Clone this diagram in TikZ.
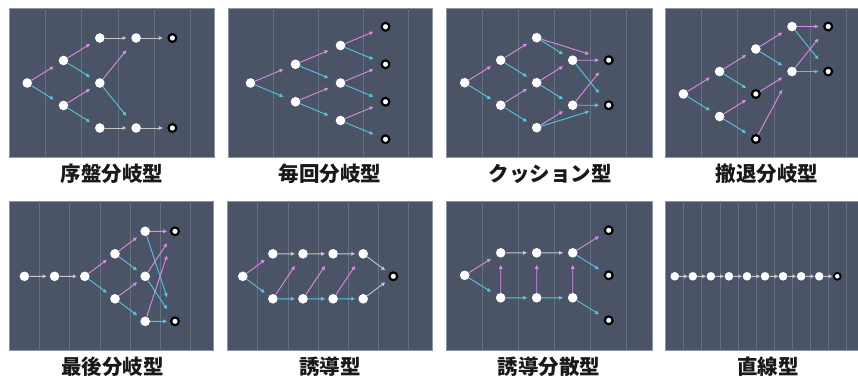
\documentclass[tikz,border=0pt]{standalone}
\usepackage{fontspec}
\newfontfamily\cjk{Noto Sans CJK JP}
\usetikzlibrary{arrows.meta,calc}
\definecolor{panelbg}{HTML}{4A5466}
\definecolor{gridc}{HTML}{657081}
\definecolor{edgec}{HTML}{8D95A2}
\definecolor{pinkc}{HTML}{DA8CE6}
\definecolor{cyanc}{HTML}{55C6E2}
\definecolor{grayc}{HTML}{C4C6CA}
\tikzset{
  nd/.style={circle, fill=white, inner sep=0pt, minimum size=9.6pt},
  en/.style={circle, fill=white, draw=black, line width=2.2pt, inner sep=0pt, minimum size=7.8pt},
  ndsm/.style={nd, minimum size=8.6pt},
  ensm/.style={en, minimum size=6.8pt, line width=1.9pt},
  frac/.style={to path={(\tikztostart) -- ($(\tikztostart)!0.73!(\tikztotarget)$)}},
  arr/.style={frac, line width=0.9pt, -{Triangle[length=3.8pt,width=3.6pt]}},
  pk/.style={arr, draw=pinkc},
  cy/.style={arr, draw=cyanc},
  gy/.style={arr, draw=grayc},
  ttl/.style={font=\cjk\bfseries\fontsize{20.5}{24}\selectfont, text=black!90, inner sep=0pt},
  panel/.style={fill=panelbg, draw=edgec, line width=0.5pt},
  grid/.style={draw=gridc, line width=0.7pt}
}
\begin{document}
\begin{tikzpicture}[x=1pt, y=-1pt]
\useasboundingbox (0,0) rectangle (858,376);
% ---------- panels and grid lines ----------
\path[panel] (9,8) rectangle (214.7,157);
\foreach \k in {1,...,5} \draw[grid] ({9+36.3*\k},8.4) -- ({9+36.3*\k},156.6);
\path[panel] (228,8) rectangle (432.7,157);
\foreach \k in {1,...,4} \draw[grid] ({228+45*\k},8.4) -- ({228+45*\k},156.6);
\path[panel] (446.7,8) rectangle (652.3,157);
\foreach \k in {1,...,5} \draw[grid] ({446.7+36*\k},8.4) -- ({446.7+36*\k},156.6);
\path[panel] (665.3,8) rectangle (858.5,157);
\foreach \k in {1,...,5} \draw[grid] ({665.3+36.2*\k},8.4) -- ({665.3+36.2*\k},156.6);
\path[panel] (9.3,201) rectangle (213.5,350.7);
\foreach \k in {1,...,6} \draw[grid] ({9.3+30.2*\k},201.4) -- ({9.3+30.2*\k},350.3);
\path[panel] (227.7,201) rectangle (432.7,350.7);
\foreach \k in {1,...,6} \draw[grid] ({227.7+30.1*\k},201.4) -- ({227.7+30.1*\k},350.3);
\path[panel] (446.7,201) rectangle (652.3,350.7);
\foreach \k in {1,...,5} \draw[grid] ({446.7+36*\k},201.4) -- ({446.7+36*\k},350.3);
\path[panel] (665.7,201) rectangle (858.5,350.7);
\foreach \k in {1,...,10} \draw[grid] ({665.7+18.06*\k},201.4) -- ({665.7+18.06*\k},350.3);

% ---------- titles ----------
\node[ttl] (t1) at (112,174) {序盤分岐型};
\node[ttl] (t2) at (330,174) {毎回分岐型};
\node[ttl] (t3) at (550,174) {クッション型};
\node[ttl] (t4) at (767,174) {撤退分岐型};
\node[ttl] (t5) at (112.5,367) {最後分岐型};
\node[ttl] (t6) at (330,367) {誘導型};
\node[ttl] (t7) at (549,367) {誘導分散型};
\node[ttl] (t8) at (768,367) {直線型};

% ---------- panel 1: 序盤分岐型 ----------
\node[nd] (p1s) at (27.2,83) {};
\node[nd] (p1a) at (63.5,60.5) {};
\node[nd] (p1b) at (63.5,105.5) {};
\node[nd] (p1c) at (99.8,38) {};
\node[nd] (p1d) at (99.8,83) {};
\node[nd] (p1e) at (99.8,128) {};
\node[nd] (p1f) at (136.1,38) {};
\node[nd] (p1g) at (136.1,128) {};
\node[en] (p1h) at (172.4,38) {};
\node[en] (p1i) at (172.4,128) {};
\draw[pk] (p1s) to (p1a); \draw[cy] (p1s) to (p1b);
\draw[pk] (p1a) to (p1c); \draw[cy] (p1a) to (p1d);
\draw[pk] (p1b) to (p1d); \draw[cy] (p1b) to (p1e);
\draw[gy] (p1c) to (p1f);
\draw[pk] (p1d) to (p1f); \draw[cy] (p1d) to (p1g);
\draw[gy] (p1e) to (p1g);
\draw[gy] (p1f) to (p1h); \draw[gy] (p1g) to (p1i);

% ---------- panel 2: 毎回分岐型 ----------
\node[nd] (p2s) at (250.5,83) {};
\node[nd] (p2a) at (295.5,64.25) {};
\node[nd] (p2b) at (295.5,101.75) {};
\node[nd] (p2c) at (340.5,45.5) {};
\node[nd] (p2d) at (340.5,83) {};
\node[nd] (p2e) at (340.5,120.5) {};
\node[en] (p2f) at (385.5,26.75) {};
\node[en] (p2g) at (385.5,64.25) {};
\node[en] (p2h) at (385.5,101.75) {};
\node[en] (p2i) at (385.5,139.25) {};
\draw[pk] (p2s) to (p2a); \draw[cy] (p2s) to (p2b);
\draw[pk] (p2a) to (p2c); \draw[cy] (p2a) to (p2d);
\draw[pk] (p2b) to (p2d); \draw[cy] (p2b) to (p2e);
\draw[pk] (p2c) to (p2f); \draw[cy] (p2c) to (p2g);
\draw[pk] (p2d) to (p2g); \draw[cy] (p2d) to (p2h);
\draw[pk] (p2e) to (p2h); \draw[cy] (p2e) to (p2i);

% ---------- panel 3: クッション型 ----------
\node[nd] (p3s) at (464.7,82.7) {};
\node[nd] (p3a) at (500.7,60.2) {};
\node[nd] (p3b) at (500.7,105.2) {};
\node[nd] (p3c) at (536.7,37.7) {};
\node[nd] (p3d) at (536.7,82.7) {};
\node[nd] (p3e) at (536.7,127.7) {};
\node[nd] (p3f) at (572.7,60.2) {};
\node[nd] (p3g) at (572.7,105.2) {};
\node[en] (p3h) at (608.7,60.2) {};
\node[en] (p3i) at (608.7,105.2) {};
\draw[pk] (p3s) to (p3a); \draw[cy] (p3s) to (p3b);
\draw[pk] (p3a) to (p3c); \draw[cy] (p3a) to (p3d);
\draw[pk] (p3b) to (p3d); \draw[cy] (p3b) to (p3e);
\draw[cy] (p3c) to (p3f); \draw[pk] (p3c) to (p3h);
\draw[pk] (p3d) to (p3f); \draw[cy] (p3d) to (p3g);
\draw[pk] (p3e) to (p3g); \draw[cy] (p3e) to (p3i);
\draw[pk] (p3f) to (p3h); \draw[cy] (p3f) to (p3i);
\draw[pk] (p3g) to (p3h); \draw[cy] (p3g) to (p3i);

% ---------- panel 4: 撤退分岐型 ----------
\node[nd] (p4s) at (683.4,94) {};
\node[nd] (p4a) at (719.6,71.5) {};
\node[nd] (p4b) at (719.6,116.5) {};
\node[nd] (p4c) at (755.8,49) {};
\node[en] (p4d) at (755.8,94) {};
\node[en] (p4e) at (755.8,139) {};
\node[nd] (p4f) at (792,26.5) {};
\node[nd] (p4g) at (792,71.5) {};
\node[en] (p4h) at (828.2,26.5) {};
\node[en] (p4i) at (828.2,71.5) {};
\draw[pk] (p4s) to (p4a); \draw[cy] (p4s) to (p4b);
\draw[pk] (p4a) to (p4c); \draw[cy] (p4a) to (p4d);
\draw[pk] (p4b) to (p4d); \draw[cy] (p4b) to (p4e);
\draw[pk] (p4c) to (p4f); \draw[cy] (p4c) to (p4g);
\draw[pk] (p4d) to (p4g); \draw[pk] (p4e) to (p4g);
\draw[pk] (p4f) to (p4h); \draw[cy] (p4f) to (p4i);
\draw[pk] (p4g) to (p4h); \draw[cy] (p4g) to (p4i);

% ---------- panel 5: 最後分岐型 ----------
\node[nd] (p5n1) at (24.4,276.3) {};
\node[nd] (p5n2) at (54.6,276.3) {};
\node[nd] (p5n3) at (84.8,276.3) {};
\node[nd] (p5a) at (115,253.8) {};
\node[nd] (p5b) at (115,298.8) {};
\node[nd] (p5c) at (145.2,231.3) {};
\node[nd] (p5d) at (145.2,276.3) {};
\node[nd] (p5e) at (145.2,321.3) {};
\node[en] (p5f) at (175,231.3) {};
\node[en] (p5g) at (175,321.3) {};
\draw[gy] (p5n1) to (p5n2); \draw[gy] (p5n2) to (p5n3);
\draw[pk] (p5n3) to (p5a); \draw[cy] (p5n3) to (p5b);
\draw[pk] (p5a) to (p5c); \draw[cy] (p5a) to (p5d);
\draw[pk] (p5b) to (p5d); \draw[cy] (p5b) to (p5e);
\draw[pk] (p5c) to (p5f); \draw[cy] (p5c) to (p5g);
\draw[pk] (p5d) to (p5f); \draw[cy] (p5d) to (p5g);
\draw[pk] (p5e) to (p5f); \draw[cy] (p5e) to (p5g);

% ---------- panel 6: 誘導型 ----------
\node[nd] (p6s) at (242.8,276.3) {};
\node[nd] (p6t1) at (272.9,253.8) {};
\node[nd] (p6t2) at (303,253.8) {};
\node[nd] (p6t3) at (333.1,253.8) {};
\node[nd] (p6t4) at (363.2,253.8) {};
\node[nd] (p6u1) at (272.9,298.8) {};
\node[nd] (p6u2) at (303,298.8) {};
\node[nd] (p6u3) at (333.1,298.8) {};
\node[nd] (p6u4) at (363.2,298.8) {};
\node[en] (p6e) at (393.3,276.3) {};
\draw[pk] (p6s) to (p6t1); \draw[cy] (p6s) to (p6u1);
\draw[gy] (p6t1) to (p6t2); \draw[gy] (p6t2) to (p6t3); \draw[gy] (p6t3) to (p6t4);
\draw[cy] (p6u1) to (p6u2); \draw[cy] (p6u2) to (p6u3); \draw[cy] (p6u3) to (p6u4);
\draw[pk] (p6u1) to (p6t2); \draw[pk] (p6u2) to (p6t3); \draw[pk] (p6u3) to (p6t4);
\draw[gy] (p6t4) to (p6e); \draw[gy] (p6u4) to (p6e);

% ---------- panel 7: 誘導分散型 ----------
\node[nd] (p7s) at (464.7,275.3) {};
\node[nd] (p7t1) at (500.7,252.8) {};
\node[nd] (p7t2) at (536.7,252.8) {};
\node[nd] (p7t3) at (572.7,252.8) {};
\node[nd] (p7u1) at (500.7,297.8) {};
\node[nd] (p7u2) at (536.7,297.8) {};
\node[nd] (p7u3) at (572.7,297.8) {};
\node[en] (p7e1) at (608.7,230.3) {};
\node[en] (p7e2) at (608.7,275.3) {};
\node[en] (p7e3) at (608.7,320.3) {};
\draw[pk] (p7s) to (p7t1); \draw[cy] (p7s) to (p7u1);
\draw[gy] (p7t1) to (p7t2); \draw[gy] (p7t2) to (p7t3);
\draw[cy] (p7u1) to (p7u2); \draw[cy] (p7u2) to (p7u3);
\draw[pk] (p7u1) to (p7t1); \draw[pk] (p7u2) to (p7t2); \draw[pk] (p7u3) to (p7t3);
\draw[pk] (p7t3) to (p7e1); \draw[cy] (p7t3) to (p7e2); \draw[cy] (p7u3) to (p7e3);

% ---------- panel 8: 直線型 ----------
\foreach \k in {1,...,9} \node[ndsm] (p8n\k) at ({665.7+18.06*(\k-0.5)},276.3) {};
\node[ensm] (p8n10) at ({665.7+18.06*9.5},276.3) {};
\foreach \k [evaluate=\k as \j using int(\k+1)] in {1,...,9} \draw[gy] (p8n\k) to (p8n\j);
\end{tikzpicture}
\end{document}
